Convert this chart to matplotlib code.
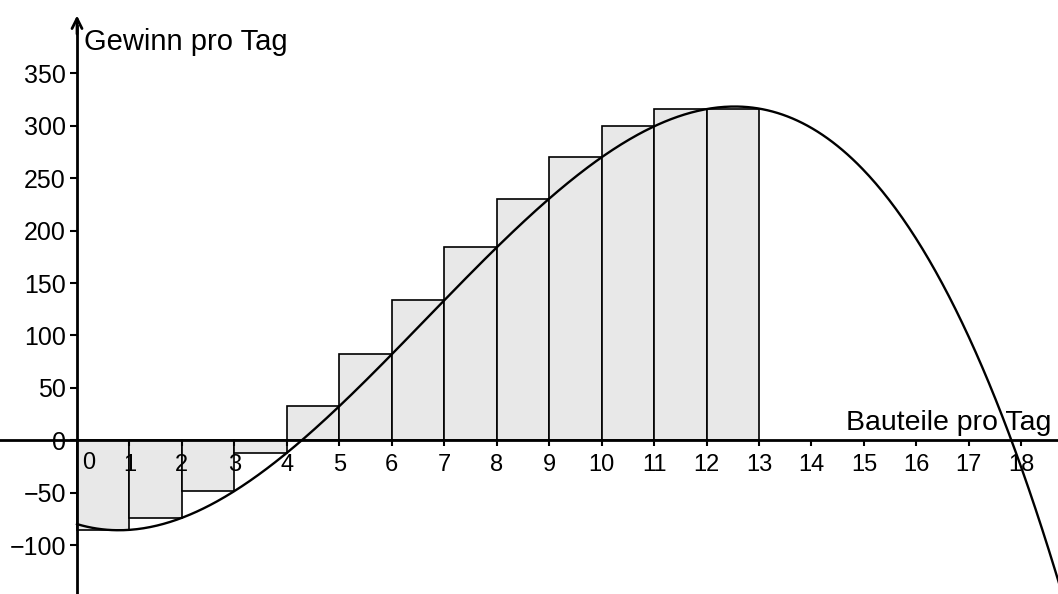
import numpy as np
import matplotlib.pyplot as plt

plt.rcParams['font.family'] = ['Liberation Sans', 'DejaVu Sans']

# Balkenhöhen (Wert am rechten Intervallende)
bar_left = [0, 1, 2, 3, 4, 5, 6, 7, 8, 9, 10, 11, 12]
bar_height = [-85.5, -74, -48.5, -12, 32.5, 82, 133.5, 184, 230.5, 270, 299.5, 316, 316.5]

# Gewinnfunktion G(x) = -0.5x^3 + 10x^2 - 15x - 80
gewinn_coef = [-0.5, 10, -15, -80]

x_ticks = list(range(1, 19))
y_ticks = [-100, -50, 0, 50, 100, 150, 200, 250, 300, 350]
y_labels = ['\u2212100', '\u221250', '0', '50', '100', '150', '200', '250', '300', '350']

fig = plt.figure(figsize=(10.58, 5.94), dpi=100)
ax = fig.add_axes([0, 0, 1, 1])
ax.set_xlim(-1.468, 18.70)
ax.set_ylim(-146.7, 420.1)
ax.set_axisbelow(False)

ax.bar(bar_left, bar_height, width=1, align='edge', color='#e8e8e8',
       edgecolor='black', linewidth=1.2, zorder=2)

xs = np.linspace(0, 19, 600)
ax.plot(xs, np.polyval(gewinn_coef, xs), color='black', lw=1.7, zorder=3)

for s in ['top', 'right']:
    ax.spines[s].set_visible(False)
ax.spines['left'].set_position(('data', 0))
ax.spines['bottom'].set_position(('data', 0))
ax.spines['left'].set_linewidth(2)
ax.spines['bottom'].set_linewidth(2)
ax.spines['left'].set_bounds(-146.7, 395)
ax.spines['left'].set_zorder(4)
ax.spines['bottom'].set_zorder(4)

ax.set_xticks(x_ticks)
ax.set_yticks(y_ticks)
ax.set_yticklabels(y_labels)
ax.tick_params(axis='x', direction='out', length=4, width=1.5, pad=6, labelsize=17)
ax.tick_params(axis='y', direction='out', length=5, width=1.5, pad=3, labelsize=18)
ax.text(0.22, -11.5, '0', fontsize=17, ha='center', va='top', zorder=4)

# Pfeil an der y-Achse
ax.annotate('', xy=(0, 408), xytext=(0, 385),
            arrowprops=dict(arrowstyle='->', lw=2, color='black', mutation_scale=18))

ax.text(0.13, 393, 'Gewinn pro Tag', fontsize=21, ha='left', va='top')
ax.text(14.66, 4, 'Bauteile pro Tag', fontsize=20.5, ha='left', va='bottom')

fig.savefig('out.png', dpi=100)
